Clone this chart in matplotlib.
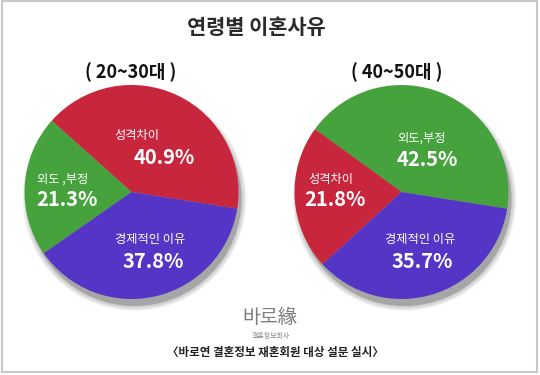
import matplotlib
matplotlib.use("Agg")
import matplotlib.pyplot as plt
from matplotlib.patches import Circle, Rectangle

plt.rcParams['font.family'] = ['Noto Sans CJK KR', 'DejaVu Sans']

# ---- data ----
title = "연령별 이혼사유"
group_titles = ["( 20~30대 )", "( 40~50대 )"]
left_labels = ["성격차이", "외도 ,부정", "경제적인 이유"]
left_values = [40.9, 21.3, 37.8]
right_labels = ["외도,부정", "성격차이", "경제적인 이유"]
right_values = [42.5, 21.8, 35.7]
logo = "바로緣"
logo_sub = "결혼정보회사"
caption = "〈바로연 결혼정보 재혼회원 대상 설문 실시〉"

RED = "#C8263D"
GREEN = "#46A23D"
PURPLE = "#5535C6"
left_colors = [RED, GREEN, PURPLE]
right_colors = [GREEN, RED, PURPLE]

W, H = 540, 375
fig = plt.figure(figsize=(5.4, 3.75), dpi=100)
ax = fig.add_axes([0, 0, 1, 1])


def py(y):
    return H - y


R = 107
centers = [(131.5, py(192)), (401.5, py(192))]

for (cx, cy), vals, cols in zip(centers, [left_values, right_values],
                                 [left_colors, right_colors]):
    # soft shadow
    for i in range(6, 0, -1):
        ax.add_patch(Circle((cx + 3, cy - 7), R + i * 0.8, color="#a8a8a8",
                            alpha=0.12, lw=0, zorder=1))
    ax.add_patch(Circle((cx + 3, cy - 7), R, color="#a6a6a6", lw=0, zorder=1))
    wedges, _ = ax.pie(vals, colors=cols, startangle=-9, counterclock=True,
                       center=(cx, cy), radius=R,
                       wedgeprops=dict(linewidth=0, zorder=2))
    for w in wedges:
        w.set_zorder(2)

# label positions (pixel coords: name center, pct center)
left_pos = [((137, 136), (164, 158)), ((63, 179), (67, 199)), ((150, 239), (153, 262))]
right_pos = [((422, 138), (427, 160)), ((331, 179), (335, 199)), ((420, 239), (422, 262))]

for labels, vals, poss in [(left_labels, left_values, left_pos),
                           (right_labels, right_values, right_pos)]:
    for lab, v, ((nx, ny), (px, pyy)) in zip(labels, vals, poss):
        ax.text(nx, py(ny), lab, color="white", fontsize=8.8, ha="center",
                va="center", zorder=5)
        ax.text(px, py(pyy), f"{v:.1f}%", color="white", fontsize=14.5,
                fontweight="bold", ha="center", va="center", zorder=5)

ax.text(256, py(28), title, fontsize=15, color="#2b2b2b", ha="center",
        va="center", fontweight="bold")
ax.text(131, py(72), group_titles[0], fontsize=13, color="#111111",
        ha="center", va="center", fontweight="bold")
ax.text(397, py(72), group_titles[1], fontsize=13, color="#111111",
        ha="center", va="center", fontweight="bold")

ax.text(270, py(317), logo, fontsize=14, color="#7d7d7d", ha="center",
        va="center", fontweight="light")
ax.text(271, py(336), logo_sub, fontsize=5, color="#888888", ha="center",
        va="center")
ax.text(275, py(352), caption, fontsize=8.3, color="#222222", ha="center",
        va="center", fontweight="bold")

ax.add_patch(Rectangle((2, 3), 535, 371, fill=False, ec="#c8c8c8", lw=1.5,
                       zorder=6))

ax.set_xlim(0, W)
ax.set_ylim(0, H)
ax.set_aspect("auto")
ax.axis("off")
fig.savefig("out.png", dpi=100)
